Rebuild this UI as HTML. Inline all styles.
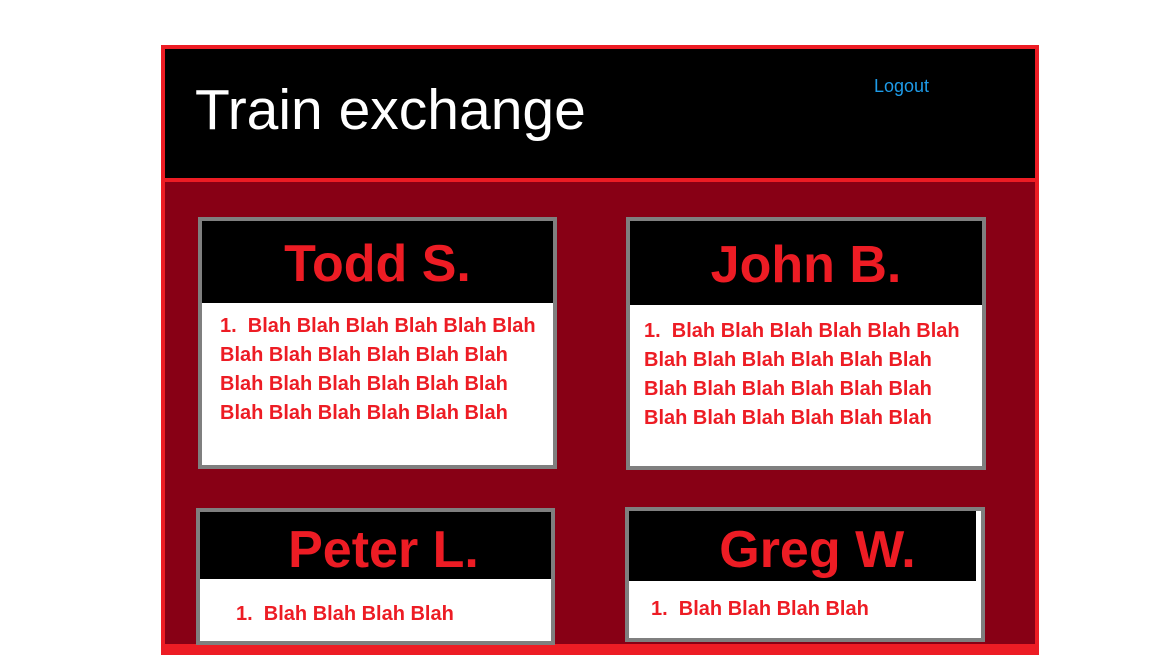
<!DOCTYPE html>
<html><head><style>
body{margin:0;width:1152px;height:648px;background:#fff;position:relative;overflow:hidden;font-family:"Liberation Sans",Arial,sans-serif}
div{position:absolute;box-sizing:border-box}
.card{border:4px solid #7f7f7f;background:#fff}
.hd{background:#000;left:0;top:0;right:0;color:#ed1c24;font-weight:bold;font-size:52px;text-align:center}
.tx{color:#ed1c24;font-weight:bold;font-size:20px;line-height:29px;white-space:nowrap}
</style></head><body>
<div style="left:161px;top:45px;width:878px;height:610px;background:#ed1c24"></div>
<div style="left:165px;top:49px;width:870px;height:129px;background:#000"></div>
<div style="left:165px;top:182px;width:870px;height:462px;background:#880015"></div>
<div style="left:195px;top:75px;color:#fff;font-size:57px;line-height:70px;white-space:nowrap">Train exchange</div>
<div style="left:874px;top:74px;color:#1e9be8;font-size:18px;line-height:24px">Logout</div>

<div class="card" style="left:198px;top:217px;width:359px;height:252px">
 <div class="hd" style="height:82px;line-height:86px">Todd S.</div>
 <div class="tx" style="left:18px;top:91px">1.&nbsp; Blah Blah Blah Blah Blah Blah<br>Blah Blah Blah Blah Blah Blah<br>Blah Blah Blah Blah Blah Blah<br>Blah Blah Blah Blah Blah Blah</div>
</div>
<div class="card" style="left:626px;top:217px;width:360px;height:253px">
 <div class="hd" style="height:84px;line-height:88px">John B.</div>
 <div class="tx" style="left:14px;top:96px">1.&nbsp; Blah Blah Blah Blah Blah Blah<br>Blah Blah Blah Blah Blah Blah<br>Blah Blah Blah Blah Blah Blah<br>Blah Blah Blah Blah Blah Blah</div>
</div>
<div class="card" style="left:196px;top:508px;width:359px;height:137px">
 <div class="hd" style="height:67px;line-height:76px;padding-left:16px">Peter L.</div>
 <div class="tx" style="left:36px;top:88px">1.&nbsp; Blah Blah Blah Blah</div>
</div>
<div class="card" style="left:625px;top:507px;width:360px;height:135px">
 <div class="hd" style="height:70px;line-height:78px;right:5px;padding-left:30px">Greg W.</div>
 <div class="tx" style="left:22px;top:84px">1.&nbsp; Blah Blah Blah Blah</div>
</div>
</body></html>
